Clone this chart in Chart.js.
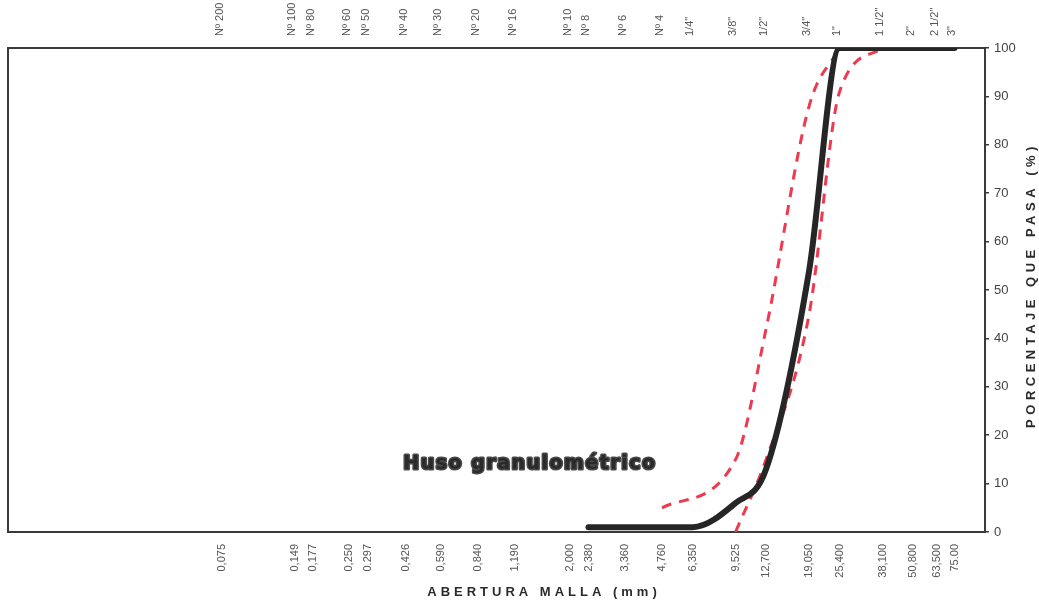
<!DOCTYPE html>
<html>
<head>
<meta charset="utf-8">
<script src="https://cdn.jsdelivr.net/npm/chart.js@4.4.1/dist/chart.umd.min.js"></script>
<style>
  html, body { margin: 0; padding: 0; background: #fff; }
  #wrap { width: 1039px; height: 600px; }
</style>
</head>
<body>
<div id="wrap"><canvas id="gradChart"></canvas></div>
<script>
// sieve openings (mm) and their labels
const sieveMm = [0.075, 0.149, 0.177, 0.25, 0.297, 0.426, 0.59, 0.84, 1.19, 2.0, 2.38, 3.36,
                 4.76, 6.35, 9.525, 12.7, 19.05, 25.4, 38.1, 50.8, 63.5, 75];
const mmLabels = ['0,075', '0,149', '0,177', '0,250', '0.297', '0,426', '0,590', '0,840', '1,190',
                  '2,000', '2,380', '3,360', '4,760', '6,350', '9,525', '12,700', '19,050',
                  '25,400', '38,100', '50,800', '63,500', '75.00'];
const sieveNames = ['Nº 200', 'Nº 100', 'Nº 80', 'Nº 60', 'Nº 50', 'Nº 40', 'Nº 30', 'Nº 20',
                    'Nº 16', 'Nº 10', 'Nº 8', 'Nº 6', 'Nº 4', '1/4"', '3/8"', '1/2"', '3/4"',
                    '1"', '1 1/2"', '2"', '2 1/2"', '3"'];

// grading curve
const curveMm = [2.38, 4.76, 6.35, 9.525, 12.7, 19.05, 25.4, 38.1, 50.8, 63.5, 75];
const curvePass = [1, 1, 1, 6, 13, 54, 100, 100, 100, 100, 100];

// band limits
const upperMm = [4.76, 9.525, 12.7, 19.05, 25.4];
const upperPass = [5, 15, 42, 88, 100];
const lowerMm = [9.525, 12.7, 19.05, 25.4, 38.1];
const lowerPass = [0, 15, 45, 91, 100];

const yTicks = [0, 10, 20, 30, 40, 50, 60, 70, 80, 90, 100];

const toPoints = (xs, ys) => xs.map((x, i) => ({ x: x, y: ys[i] }));

const redLine = 'rgb(238, 58, 78)';

// frame, titles and the band label
const decor = {
    id: 'decor',
    beforeDatasetsDraw(chart) {
        const { ctx, chartArea: a } = chart;
        ctx.save();
        ctx.strokeStyle = '#3a3a3a';
        ctx.lineWidth = 2;
        ctx.strokeRect(a.left, a.top, a.right - a.left, a.bottom - a.top);
        ctx.restore();
    },
    afterDraw(chart) {
        const { ctx, scales } = chart;
        ctx.save();
        ctx.fillStyle = '#2b2b2b';
        ctx.font = 'bold 13px "Liberation Sans", Arial, sans-serif';
        ctx.textAlign = 'center';
        ctx.textBaseline = 'middle';
        ctx.letterSpacing = '4px';
        ctx.fillText('ABERTURA MALLA (mm)', 544, 592);

        ctx.translate(1031, 285);
        ctx.rotate(-Math.PI / 2);
        ctx.letterSpacing = '4.5px';
        ctx.fillText('PORCENTAJE QUE PASA (%)', 0, 0);
        ctx.restore();

        // "Huso granulométrico" label
        ctx.save();
        const hx = scales.x.getPixelForValue(1.37);
        const hy = scales.y.getPixelForValue(14);
        ctx.font = 'bold 19px "DejaVu Sans", sans-serif';
        ctx.letterSpacing = '1.5px';
        ctx.textAlign = 'center';
        ctx.textBaseline = 'middle';
        ctx.lineJoin = 'round';
        ctx.strokeStyle = '#4a4a4a';
        ctx.lineWidth = 3;
        ctx.strokeText('Huso granulométrico', hx, hy);
        ctx.fillStyle = '#2a2a2a';
        ctx.fillText('Huso granulométrico', hx, hy);
        ctx.restore();
    }
};

const setSieveTicks = scale => {
    scale.ticks = sieveMm.map(v => ({ value: v }));
};

new Chart(document.getElementById('gradChart'), {
    type: 'line',
    data: {
        datasets: [{
            label: 'Curva granulométrica',
            data: toPoints(curveMm, curvePass),
            borderColor: '#262626',
            borderWidth: 6,
            borderCapStyle: 'round',
            cubicInterpolationMode: 'monotone',
            pointRadius: 0
        }, {
            label: 'Límite superior',
            data: toPoints(upperMm, upperPass),
            borderColor: redLine,
            borderWidth: 3,
            borderDash: [10, 8],
            cubicInterpolationMode: 'monotone',
            pointRadius: 0
        }, {
            label: 'Límite inferior',
            data: toPoints(lowerMm, lowerPass),
            borderColor: redLine,
            borderWidth: 3,
            borderDash: [10, 8],
            cubicInterpolationMode: 'monotone',
            pointRadius: 0
        }]
    },
    options: {
        responsive: true,
        maintainAspectRatio: false,
        animation: false,
        layout: { padding: { left: 8, right: 0, top: 0, bottom: 0 } },
        plugins: {
            legend: { display: false },
            tooltip: { enabled: false }
        },
        scales: {
            x: {
                type: 'logarithmic',
                position: 'bottom',
                min: 0.01,
                max: 100,
                afterBuildTicks: setSieveTicks,
                afterFit: s => { s.height = 68; },
                grid: { display: false, drawTicks: false },
                border: { display: false },
                ticks: {
                    autoSkip: false,
                    minRotation: 90,
                    maxRotation: 90,
                    padding: 12,
                    color: '#555',
                    font: { family: '"Liberation Sans", Arial, sans-serif', size: 11 },
                    callback: (v, i) => mmLabels[i]
                }
            },
            x2: {
                type: 'logarithmic',
                position: 'top',
                min: 0.01,
                max: 100,
                afterBuildTicks: setSieveTicks,
                afterFit: s => { s.height = 48; },
                grid: { display: false, drawTicks: false },
                border: { display: false },
                ticks: {
                    autoSkip: false,
                    minRotation: 90,
                    maxRotation: 90,
                    padding: 12,
                    labelOffset: 11,
                    color: '#555',
                    font: { family: '"Liberation Sans", Arial, sans-serif', size: 11 },
                    callback: (v, i) => sieveNames[i]
                }
            },
            y: {
                position: 'right',
                min: 0,
                max: 100,
                afterBuildTicks: s => { s.ticks = yTicks.map(v => ({ value: v })); },
                afterFit: s => { s.width = 54; },
                grid: { drawOnChartArea: false, drawTicks: true, tickLength: 4, color: '#3a3a3a', lineWidth: 1.5 },
                border: { display: false },
                ticks: {
                    padding: 5,
                    color: '#444',
                    font: { family: '"Liberation Sans", Arial, sans-serif', size: 13 }
                }
            }
        }
    },
    plugins: [decor]
});
</script>
</body>
</html>
